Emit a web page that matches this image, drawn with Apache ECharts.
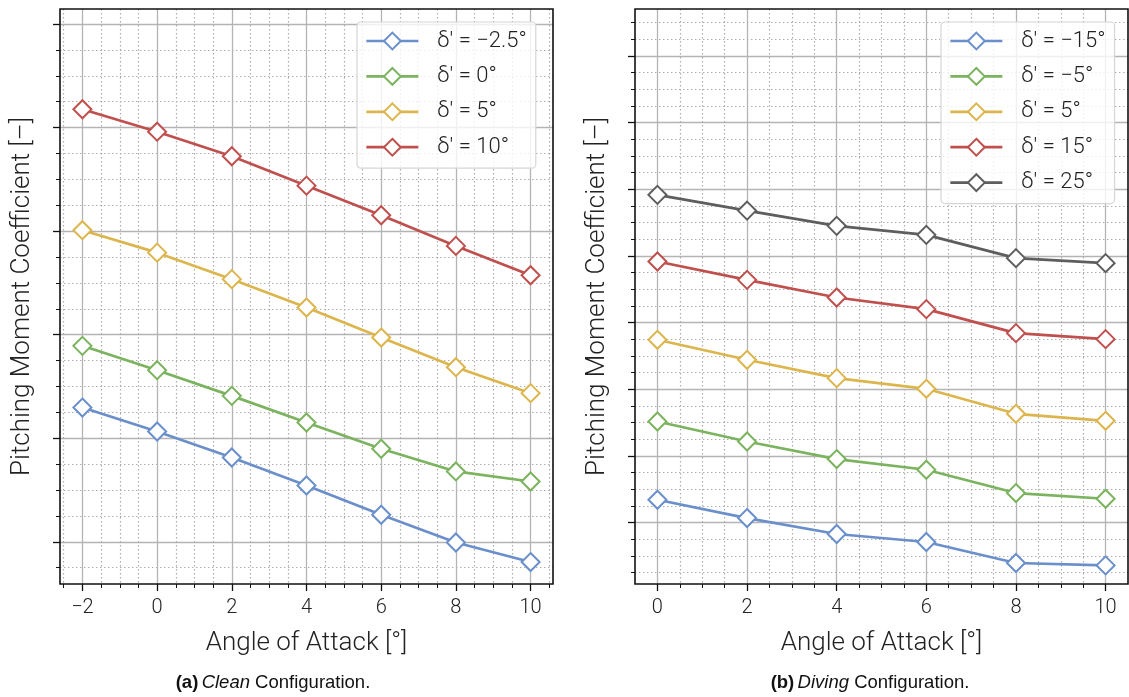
<!DOCTYPE html>
<html>
<head>
<meta charset="utf-8">
<script src="https://cdn.jsdelivr.net/npm/echarts@6/dist/echarts.min.js"></script>
<style>
  html, body { margin: 0; padding: 0; background: #fff; }
  #chart { width: 1129px; height: 697px; }
</style>
</head>
<body>
<div id="chart"></div>
<script>
// Angle of attack samples (degrees)
const aoaClean = [-2, 0, 2, 4, 6, 8, 10];
const aoaDiving = [0, 2, 4, 6, 8, 10];

// Pitching moment coefficient, clean configuration (unlabelled axis units)
const cleanDm2p5 = [1.296, 1.065, 0.814, 0.543, 0.261, -0.007, -0.196];
const cleanD0 = [1.892, 1.657, 1.409, 1.152, 0.898, 0.679, 0.582];
const cleanD5 = [3.009, 2.792, 2.536, 2.262, 1.972, 1.686, 1.435];
const cleanD10 = [4.177, 3.960, 3.723, 3.439, 3.153, 2.857, 2.574];

// Pitching moment coefficient, diving configuration
const divingDm15 = [0.345, 0.070, -0.169, -0.289, -0.604, -0.640];
const divingDm5 = [1.519, 1.219, 0.955, 0.795, 0.445, 0.360];
const divingD5 = [2.744, 2.444, 2.169, 2.009, 1.634, 1.529];
const divingD15 = [3.918, 3.643, 3.378, 3.204, 2.844, 2.754];
const divingD25 = [4.918, 4.682, 4.453, 4.318, 3.969, 3.894];

// Major tick positions of each axis
const xTicksClean = [-2, 0, 2, 4, 6, 8, 10];
const xTicksDiving = [0, 2, 4, 6, 8, 10];
const yTicksClean = [0, 1, 2, 3, 4, 5];
const yTicksDiving = [0, 1, 2, 3, 4, 5, 6, 7];

// Legend labels
const cleanNames = ['δ′ = −2.5°', 'δ′ = 0°', 'δ′ = 5°', 'δ′ = 10°'];
const divingNames = ['δ′ = −15°', 'δ′ = −5°', 'δ′ = 5°', 'δ′ = 15°', 'δ′ = 25°'];

// Captions
const captionA = ['(a)', 'Clean', ' Configuration.'];
const captionB = ['(b)', 'Diving', ' Configuration.'];

const C_BLUE = '#6a8fcb', C_GREEN = '#7bb35e', C_YELLOW = '#dcb54c', C_RED = '#c0504d', C_GRAY = '#5e5e5e';
const FONT = 'Roboto';

const chart = echarts.init(document.getElementById('chart'), null, { renderer: 'canvas' });

function pairs(xs, ys) { return xs.map((x, i) => [x, ys[i]]); }

function lineSeries(name, xs, ys, color, gi) {
  return {
    type: 'line', name: name, xAxisIndex: gi, yAxisIndex: gi,
    data: pairs(xs, ys),
    symbol: 'emptyDiamond', symbolSize: 18,
    lineStyle: { color: color, width: 2.7 },
    itemStyle: { color: color, borderColor: color, borderWidth: 2.2 },
    emphasis: { disabled: true },
    animation: false, z: 3
  };
}

function majorTick(values) {
  return { show: true, inside: false, length: 7, customValues: values, lineStyle: { color: '#111', width: 1.3 } };
}
const minorTick = { show: true, splitNumber: 4, length: 4, lineStyle: { color: '#111', width: 1 } };
const majorGrid = { show: true, lineStyle: { color: '#b4b4b4', width: 1.3 } };
const minorGrid = { show: true, lineStyle: { color: '#acacac', width: 1.2, type: [1.4, 2.6] } };
const titleText = { fontFamily: FONT, fontWeight: 300, fontSize: 26, color: '#222' };

function xAxisCfg(gi, min, max, ticks) {
  return {
    type: 'value', gridIndex: gi, min: min, max: max,
    minInterval: 2, maxInterval: 2, splitNumber: 6,
    axisLine: { show: false, onZero: false },
    axisTick: majorTick(ticks), minorTick: minorTick,
    axisLabel: {
      margin: 14, fontFamily: FONT, fontWeight: 300, fontSize: 20, color: '#222',
      customValues: ticks,
      formatter: v => String(v).replace('-', '−')
    },
    splitLine: majorGrid, minorSplitLine: minorGrid,
    name: 'Angle of Attack [°]', nameLocation: 'middle', nameGap: 46,
    nameTextStyle: titleText
  };
}

function yAxisCfg(gi, min, max, ticks) {
  return {
    type: 'value', gridIndex: gi, min: min, max: max,
    minInterval: 1, maxInterval: 1, splitNumber: 6,
    axisLine: { show: false, onZero: false },
    axisTick: majorTick(ticks), minorTick: minorTick,
    axisLabel: { show: false },
    splitLine: majorGrid, minorSplitLine: minorGrid,
    name: 'Pitching Moment Coefficient [–]', nameLocation: 'middle', nameGap: 25, nameRotate: 90,
    nameTextStyle: titleText
  };
}

function legendCfg(names, left, top) {
  return {
    data: names, orient: 'vertical', left: left, top: top,
    itemWidth: 52, itemHeight: 21, itemGap: 13.4,
    padding: [8, 9, 10, 8],
    backgroundColor: 'rgba(255,255,255,0.8)',
    borderColor: '#d6d6d6', borderWidth: 1.2, borderRadius: 4,
    lineStyle: { width: 2.7 },
    itemStyle: { borderWidth: 2.2 },
    textStyle: { fontFamily: FONT, fontWeight: 300, fontSize: 22, color: '#222', padding: [0, 0, 0, 14] },
    selectedMode: false, z: 8
  };
}

function captionGraphic(parts, cx) {
  return {
    type: 'text', x: cx, y: 683,
    style: {
      text: '{b|' + parts[0] + '} {i|' + parts[1] + '}{r|' + parts[2] + '}',
      align: 'center', verticalAlign: 'middle',
      rich: {
        b: { fontFamily: 'Liberation Sans', fontWeight: 'bold', fontSize: 18.5, fill: '#111' },
        i: { fontFamily: 'Liberation Sans', fontStyle: 'italic', fontSize: 18.5, fill: '#111' },
        r: { fontFamily: 'Liberation Sans', fontSize: 18.5, fill: '#111' }
      }
    }
  };
}

const gridStyle = { show: true, borderColor: '#111', borderWidth: 1.6, backgroundColor: 'transparent', z: 10 };

chart.setOption({
  animation: false,
  backgroundColor: '#fff',
  grid: [
    Object.assign({ left: 60, top: 9, width: 493, height: 575 }, gridStyle),
    Object.assign({ left: 635, top: 9, width: 493, height: 575 }, gridStyle)
  ],
  xAxis: [xAxisCfg(0, -2.6, 10.6, xTicksClean), xAxisCfg(1, -0.5, 10.5, xTicksDiving)],
  yAxis: [yAxisCfg(0, -0.408, 5.145, yTicksClean), yAxisCfg(1, -0.919, 7.706, yTicksDiving)],
  legend: [legendCfg(cleanNames, 357, 22), legendCfg(divingNames, 941, 22)],
  series: [
    lineSeries(cleanNames[0], aoaClean, cleanDm2p5, C_BLUE, 0),
    lineSeries(cleanNames[1], aoaClean, cleanD0, C_GREEN, 0),
    lineSeries(cleanNames[2], aoaClean, cleanD5, C_YELLOW, 0),
    lineSeries(cleanNames[3], aoaClean, cleanD10, C_RED, 0),
    lineSeries(divingNames[0], aoaDiving, divingDm15, C_BLUE, 1),
    lineSeries(divingNames[1], aoaDiving, divingDm5, C_GREEN, 1),
    lineSeries(divingNames[2], aoaDiving, divingD5, C_YELLOW, 1),
    lineSeries(divingNames[3], aoaDiving, divingD15, C_RED, 1),
    lineSeries(divingNames[4], aoaDiving, divingD25, C_GRAY, 1)
  ],
  graphic: [captionGraphic(captionA, 273), captionGraphic(captionB, 870)]
});
</script>
</body>
</html>
